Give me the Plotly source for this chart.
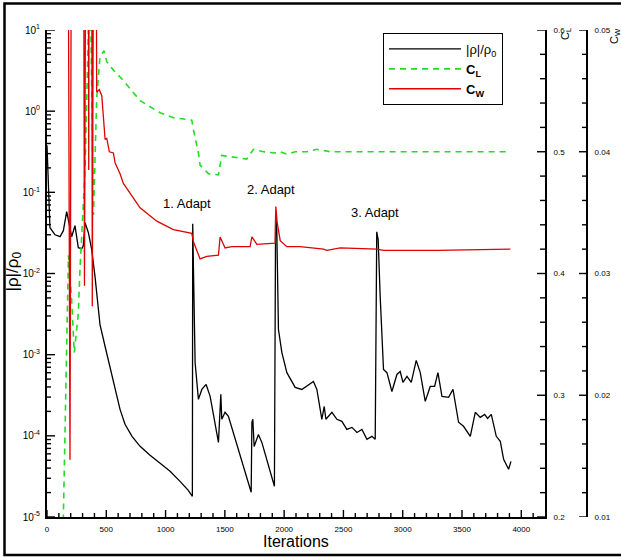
import plotly.graph_objects as go

# ---------------- data ----------------
rho_iter = [0, 13, 25, 68, 110, 138, 166, 208, 236, 264, 293, 306, 321, 349, 377, 405, 447, 490, 532, 574,
            616, 658, 717, 785, 869, 954, 1038, 1122, 1190, 1226, 1229, 1235, 1249, 1277, 1306, 1342, 1376,
            1446, 1460, 1466, 1474, 1502,
            1530, 1615, 1722, 1728, 1736, 1747, 1783, 1812, 1854, 1918, 1928, 1938, 1952, 1981, 2023, 2093,
            2149, 2205, 2247, 2276, 2318, 2338, 2352, 2403, 2445, 2487, 2529, 2572, 2614, 2656, 2698, 2740,
            2768, 2781, 2793, 2810, 2838, 2867, 2909, 2951, 2979, 3002, 3036, 3072, 3114, 3148, 3190, 3232,
            3269, 3297, 3331, 3387, 3424, 3471, 3513, 3570, 3612, 3654, 3691, 3716, 3747, 3789, 3823, 3851,
            3893, 3913]
rho_res = [0.38, 0.081, 0.0367, 0.030, 0.0284, 0.0337, 0.0577, 0.0284, 0.0388, 0.0208, 0.0202, 0.022, 0.0423,
           0.0318, 0.0197, 0.00916, 0.00235, 0.00126, 0.000716, 0.000373,
           0.000212, 0.000139, 9.86e-5, 7.43e-5, 5.75e-5, 4.59e-5, 3.66e-5, 2.75e-5, 2.14e-5, 1.80e-5,
           0.0411, 0.0118, 0.0008, 0.000281, 0.000373, 0.00043, 0.000306,
           8.3e-5, 0.000306, 0.000324, 0.00016, 0.000195,
           0.000174, 6.8e-5, 2.02e-5, 0.000147, 0.00016, 7.4e-5, 0.000104, 8.3e-5, 5.1e-5, 2.39e-5, 0.053,
           0.0347, 0.00204, 0.00106, 0.0006, 0.000395,
           0.000373, 0.00043, 0.000468, 0.000373, 0.00016, 0.00023, 0.00016, 0.000195, 0.00016, 0.000151,
           0.00012, 0.000127, 0.00011, 0.00012, 9.06e-5, 9.86e-5,
           9.06e-5, 0.0327, 0.0261, 0.0052, 0.000658, 0.0006, 0.000352, 0.00057, 0.00062, 0.000455, 0.00054,
           0.000455, 0.00085, 0.0006, 0.000266, 0.000406,
           0.000406, 0.0006, 0.000306, 0.000298, 0.000373, 0.000147, 0.000131, 9.86e-5, 0.000195, 0.000169,
           0.000184, 0.000164, 0.000184, 9.86e-5, 8.55e-5, 5.14e-5,
           3.87e-5, 4.85e-5]

cl_iter = [120, 138, 181, 208, 230, 264, 278, 321, 349, 363, 392, 419, 447, 481, 504, 560, 630, 785, 954,
           1066, 1221, 1235, 1277, 1291, 1361, 1446, 1474, 1544, 1685, 1741, 1826, 1924, 1967, 2023, 2093,
           2192, 2276, 2388, 2810, 3908]
cl_val = [0.17, 0.200, 0.415, 0.378, 0.335, 0.367, 0.403, 0.485, 0.600, 0.65, 0.448, 0.544, 0.578, 0.583,
          0.574, 0.567, 0.560, 0.542, 0.532, 0.528, 0.526, 0.518, 0.499, 0.489, 0.482, 0.481, 0.497, 0.496,
          0.494, 0.502, 0.500, 0.499, 0.500, 0.498, 0.500, 0.500, 0.502, 0.500, 0.500, 0.500]

cw_iter = [165, 194, 215, 300, 316, 328, 341, 352, 362, 372, 382, 392, 405, 419, 441, 462, 490, 504, 526,
           560, 574, 616, 644, 785, 926, 1066, 1221, 1235, 1291, 1348, 1446, 1460, 1502, 1559, 1713, 1728,
           1770, 1924, 1930, 1941, 1967, 2023, 2135, 2332, 2360, 2473, 2783, 2838, 3289, 3908]
cw_val = [0.1, 0.0147, 0.1, 0.1, 0.029, 0.1, 0.1, 0.0385, 0.1, 0.1, 0.0273, 0.1, 0.1, 0.0449, 0.0451,
          0.0446, 0.0410, 0.0411, 0.0400, 0.0399, 0.0391, 0.0382, 0.0374, 0.0354, 0.0343, 0.0336, 0.0333,
          0.0326, 0.0312, 0.0314, 0.0315, 0.0330, 0.0321, 0.0322, 0.0322, 0.0330, 0.0324, 0.0325, 0.0355,
          0.0342, 0.0327, 0.0322, 0.0322, 0.0320, 0.0319, 0.0321, 0.0320, 0.0319, 0.0319, 0.0320]

assert len(rho_iter) == len(rho_res)
assert len(cl_iter) == len(cl_val)
assert len(cw_iter) == len(cw_val)

iter_range = [0, 4200]
rho_log_range = [-5, 1]
cl_range = [0.2, 0.6]
cw_range = [0.01, 0.05]

iter_major = list(range(0, 4001, 500))
iter_minor = [v for v in range(100, 4200, 100) if v % 500 != 0]
rho_tickvals = [1e-5, 1e-4, 1e-3, 1e-2, 1e-1, 1, 10]
rho_ticktext = ["10<sup>-5</sup>", "10<sup>-4</sup>", "10<sup>-3</sup>", "10<sup>-2</sup>",
                "10<sup>-1</sup>", "10<sup>0</sup>", "10<sup>1</sup>"]
rho_minor = [m * 10.0 ** e for e in range(-5, 1) for m in range(2, 10)]
cl_major = [0.2, 0.3, 0.4, 0.5, 0.6]
cl_minor = [round(0.2 + 0.02 * k, 2) for k in range(1, 20) if k % 5 != 0]
cw_major = [0.01, 0.02, 0.03, 0.04, 0.05]
cw_minor = [round(0.01 + 0.002 * k, 3) for k in range(1, 20) if k % 5 != 0]

adapt_labels = ["1. Adapt", "2. Adapt", "3. Adapt"]
adapt_x = [1181, 1893, 2768]
adapt_logy = [-1.14, -0.96, -1.25]

FONT = "Liberation Sans, Arial, sans-serif"

# ---------------- geometry ----------------
L, R, T, B = 47, 10, 30, 40
W, H = 621, 557
pw = W - L - R
ph = H - T - B
CL_AXIS_PX = 545
CW_AXIS_PX = 587
xdom_end = (CL_AXIS_PX - L) / pw
cw_pos = (CW_AXIS_PX - L) / pw

def px_x(p):
    return (p - L) / pw

def px_y(p):
    return (H - B - p) / ph

# ---------------- figure ----------------
fig = go.Figure()
fig.add_trace(go.Scatter(x=rho_iter, y=rho_res, mode="lines", name="|ρ|/ρ<sub>0</sub>",
                         line=dict(color="black", width=1.3)))
fig.add_trace(go.Scatter(x=cl_iter, y=cl_val, mode="lines", yaxis="y2", name="<b>C<sub>L</sub></b>",
                         line=dict(color="#22dd22", width=1.6, dash="6px,5px")))
fig.add_trace(go.Scatter(x=cw_iter, y=cw_val, mode="lines", yaxis="y3", name="<b>C<sub>W</sub></b>",
                         line=dict(color="#e00000", width=1.3)))

fig.update_layout(
    width=W, height=H,
    margin=dict(l=L, r=R, t=T, b=B, pad=0),
    paper_bgcolor="white", plot_bgcolor="white",
    font=dict(family=FONT, color="black"),
    showlegend=True,
    legend=dict(x=px_x(383), y=px_y(33), xanchor="left", yanchor="top",
                bordercolor="black", borderwidth=1, bgcolor="white",
                font=dict(size=13, family=FONT), itemwidth=72, tracegroupgap=0),
    xaxis=dict(domain=[0, xdom_end], range=iter_range, showline=True, linewidth=2, linecolor="black",
               ticks="", tickmode="array", tickvals=iter_major, ticklabelstandoff=3,
               tickfont=dict(size=8), showgrid=False, zeroline=False),
    yaxis=dict(type="log", range=rho_log_range, showline=True, linewidth=2, linecolor="black",
               ticks="", tickmode="array", tickvals=rho_tickvals, ticktext=rho_ticktext,
               ticklabelstandoff=3, tickfont=dict(size=10), showgrid=False, zeroline=False),
    yaxis2=dict(overlaying="y", side="right", anchor="x", range=cl_range, showline=True, linewidth=2,
                linecolor="black", ticks="", tickmode="array", tickvals=cl_major, tickformat=".1f",
                ticklabelstandoff=5, tickfont=dict(size=8), showgrid=False, zeroline=False),
    yaxis3=dict(overlaying="y", side="right", anchor="free", position=cw_pos, range=cw_range,
                showline=True, linewidth=2, linecolor="black", ticks="", tickmode="array",
                tickvals=cw_major, tickformat=".2f", ticklabelstandoff=5, tickfont=dict(size=8),
                showgrid=False, zeroline=False),
)

# ---------------- inward tick marks as line shapes ----------------
TICK = dict(color="black", width=1.4)
shapes = []
for vals, ln in [(iter_major, 7), (iter_minor, 4)]:
    for v in vals:
        shapes.append(dict(type="line", xref="x", yref="paper", x0=v, x1=v, y0=0, y1=ln / ph,
                           line=TICK, layer="above"))
for vals, ln in [(rho_tickvals, 8), (rho_minor, 4)]:
    for v in vals:
        shapes.append(dict(type="line", xref="paper", yref="y", x0=0, x1=ln / pw, y0=v, y1=v,
                           line=TICK, layer="above"))
for vals, ln in [(cl_major, 8), (cl_minor, 5)]:
    for v in vals:
        shapes.append(dict(type="line", xref="paper", yref="y2", x0=xdom_end - ln / pw, x1=xdom_end,
                           y0=v, y1=v, line=TICK, layer="above"))
for vals, ln in [(cw_major, 8), (cw_minor, 5)]:
    for v in vals:
        shapes.append(dict(type="line", xref="paper", yref="y3", x0=cw_pos - ln / pw, x1=cw_pos,
                           y0=v, y1=v, line=TICK, layer="above"))
# outer frame
shapes.append(dict(type="rect", xref="paper", yref="paper",
                   x0=px_x(4.5), x1=px_x(640), y0=px_y(555), y1=px_y(3.5),
                   line=dict(color="black", width=2.5), fillcolor="rgba(0,0,0,0)", layer="above"))
fig.update_layout(shapes=shapes)

# ---------------- texts ----------------
for txt, ax, ay in zip(adapt_labels, adapt_x, adapt_logy):
    fig.add_annotation(x=ax, y=ay, xref="x", yref="y", text=txt, showarrow=False,
                       xanchor="center", yanchor="middle", font=dict(size=13, family=FONT))

fig.add_annotation(x=px_x(296), y=px_y(541), xref="paper", yref="paper", text="Iterations",
                   showarrow=False, xanchor="center", yanchor="middle", font=dict(size=16, family=FONT))
fig.add_annotation(x=px_x(13.5), y=px_y(272), xref="paper", yref="paper", text="|ρ|/ρ<sub>0</sub>",
                   textangle=-90, showarrow=False, xanchor="center", yanchor="middle",
                   font=dict(size=17, family=FONT))
fig.add_annotation(x=px_x(566), y=px_y(34), xref="paper", yref="paper", text="C<sub>L</sub>",
                   textangle=-90, showarrow=False, xanchor="center", yanchor="middle",
                   font=dict(size=11, family=FONT))
fig.add_annotation(x=px_x(615), y=px_y(36), xref="paper", yref="paper", text="C<sub>W</sub>",
                   textangle=-90, showarrow=False, xanchor="center", yanchor="middle",
                   font=dict(size=11, family=FONT))

fig.write_html("out.html")
